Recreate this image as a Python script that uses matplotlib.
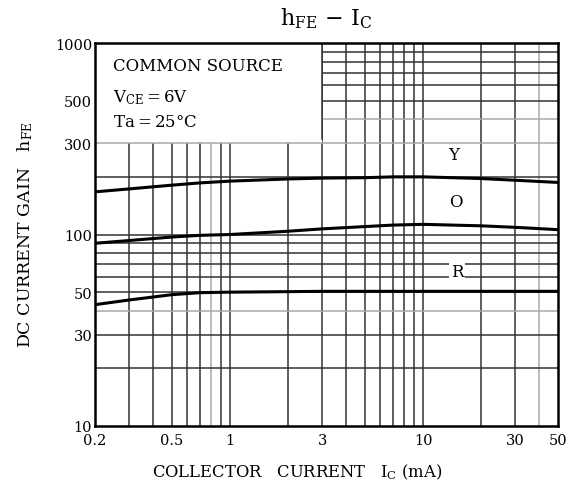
import numpy as np
import matplotlib.pyplot as plt
from matplotlib.patches import Rectangle

plt.rcParams['font.family'] = ['DejaVu Serif']
plt.rcParams['mathtext.fontset'] = 'dejavuserif'

# collector current (mA) and hFE for the three rank curves
ic = [0.2, 0.3, 0.5, 0.7, 1, 2, 3, 5, 7, 10, 20, 30, 50]
hfe_Y = [167, 173, 181, 186, 190, 195, 197, 198, 200, 200, 196, 192, 187]
hfe_O = [90, 93, 97, 99, 100, 104, 107, 110, 112, 113, 111, 109, 106]
hfe_R = [43, 45.5, 48.5, 49.7, 50, 50.3, 50.5, 50.5, 50.5, 50.5, 50.5, 50.5, 50.5]

xticks = [0.2, 0.5, 1, 3, 10, 30, 50]
xlabels = ['0.2', '0.5', '1', '3', '10', '30', '50']
yticks = [10, 30, 50, 100, 300, 500, 1000]
ylabels = ['10', '30', '50', '100', '300', '500', '1000']

xgrid = [0.3, 0.4, 0.5, 0.6, 0.7, 0.8, 0.9, 1, 2, 3, 4, 5, 6, 7, 8, 9, 10, 20, 30, 40]
ygrid = [20, 30, 40, 50, 60, 70, 80, 90, 100, 200, 300, 400, 500, 600, 700, 800, 900]
light = [0.8, 40, 300, 400]

fig = plt.figure(figsize=(5.71, 4.89), dpi=100)
ax = fig.add_axes([0.1664, 0.1268, 0.8109, 0.7832])
ax.set_xscale('log')
ax.set_yscale('log')
ax.set_xlim(0.2, 50)
ax.set_ylim(10, 1000)

for x in xgrid:
    c = '#aaaaaa' if x in light else '#333333'
    ax.axvline(x, color=c, lw=1.1, zorder=1)
for y in ygrid:
    c = '#aaaaaa' if y in light else '#333333'
    ax.axhline(y, color=c, lw=1.1, zorder=3 if y == 300 else 1)

# white box with conditions
ax.add_patch(Rectangle((0.2, 300), 2.78, 700, facecolor='white', edgecolor='none', zorder=2))
ax.axvline(3, ymin=0.75, color='#333333', lw=1.1, zorder=3)
ax.text(0.248, 760, 'COMMON SOURCE', fontsize=12, va='center', zorder=4)
ax.text(0.248, 525, r'V$_{\rm CE}$$=$6V', fontsize=12, va='center', zorder=4)
ax.text(0.248, 390, 'Ta$=$25°C', fontsize=12, va='center', zorder=4)

ax.plot(ic, hfe_Y, color='black', lw=2.2, zorder=5)
ax.plot(ic, hfe_O, color='black', lw=2.2, zorder=5)
ax.plot(ic, hfe_R, color='black', lw=2.2, zorder=5)

bb = dict(facecolor='white', edgecolor='none', pad=1.5)
ax.text(14.4, 262, 'Y', fontsize=12, ha='center', va='center', bbox=bb, zorder=4)
ax.text(14.7, 148, 'O', fontsize=12, ha='center', va='center', bbox=bb, zorder=4)
ax.text(15, 64, 'R', fontsize=12, ha='center', va='center', bbox=bb, zorder=4)

ax.set_xticks(xticks)
ax.set_xticklabels(xlabels)
ax.set_yticks(yticks)
ax.set_yticklabels(ylabels)
ax.minorticks_off()
ax.tick_params(length=0, labelsize=10.5)
ax.tick_params(axis='x', pad=5)
ax.tick_params(axis='y', pad=2)
for s in ax.spines.values():
    s.set_linewidth(1.8)
    s.set_zorder(6)

fig.text(0.571, 0.962, r'h$_{\rm FE}$ $-$ I$_{\rm C}$', fontsize=16, ha='center', va='center')
fig.text(0.52, 0.035, r'COLLECTOR   CURRENT   I$_{\rm C}$ (mA)', fontsize=11.8, ha='center', va='center')
fig.text(0.044, 0.52, r'DC CURRENT GAIN   h$_{\rm FE}$', fontsize=12.5, rotation=90,
         ha='center', va='center')

fig.savefig('out.png', dpi=100)
